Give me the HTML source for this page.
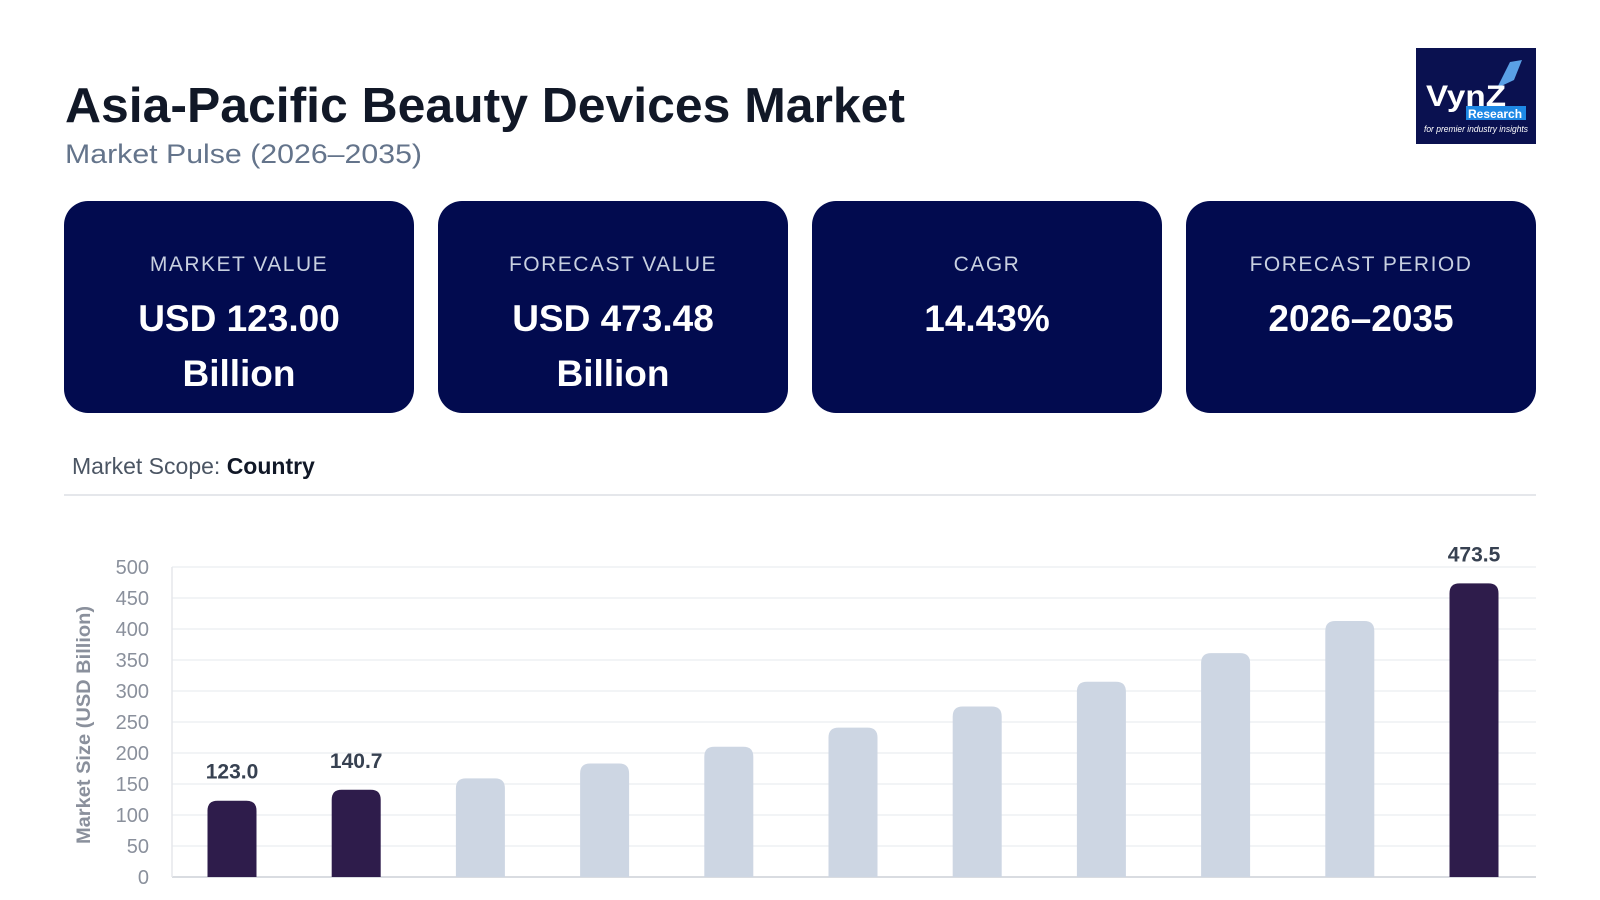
<!DOCTYPE html>
<html><head><meta charset="utf-8"><style>
html,body{margin:0;padding:0;background:#fff;}
svg{display:block;font-family:"Liberation Sans",sans-serif;}
</style></head><body>
<svg width="1600" height="900" viewBox="0 0 1600 900">
<text x="65" y="122" font-size="49" font-weight="bold" fill="#111827" textLength="840" lengthAdjust="spacingAndGlyphs">Asia-Pacific Beauty Devices Market</text>
<text x="65" y="163" font-size="27" fill="#64748b" textLength="357" lengthAdjust="spacingAndGlyphs">Market Pulse (2026–2035)</text>
<g>
<rect x="1416" y="48" width="120" height="96" fill="#0a1150"/>
<polygon points="1497,88 1510,62 1522,60 1514,80" fill="#5aa0e6"/>
<text x="1426" y="106" font-size="30" font-weight="bold" fill="#fff" textLength="80" lengthAdjust="spacingAndGlyphs">VynZ</text>
<rect x="1466" y="106" width="60" height="14" fill="#1e88e5"/>
<text x="1468" y="118" font-size="12" font-weight="bold" fill="#fff">Research</text>
<text x="1424" y="132" font-size="9" font-style="italic" fill="#fff" textLength="104" lengthAdjust="spacingAndGlyphs">for premier industry insights</text>
</g>
<g id="cards"></g>
<text x="72" y="474" font-size="23" fill="#4b5563">Market Scope: <tspan font-weight="bold" fill="#111827">Country</tspan></text>
<line x1="64" y1="495" x2="1536" y2="495" stroke="#e5e7eb" stroke-width="2"/>
<g id="chart"></g>
</svg>
<script>
const cardLabels=["MARKET VALUE","FORECAST VALUE","CAGR","FORECAST PERIOD"];
const cardLine1=["USD 123.00","USD 473.48","14.43%","2026–2035"];
const cardLine2=["Billion","Billion","",""];
const years=["2025","2026","2027","2028","2029","2030","2031","2032","2033","2034","2035"];
const values=[123.0,140.7,159,183,210,241,275,315,361,413,473.5];
const highlight=[true,true,false,false,false,false,false,false,false,false,true];
const valueLabels=["123.0","140.7","","","","","","","","","473.5"];
const yTicks=[0,50,100,150,200,250,300,350,400,450,500];
const NS="http://www.w3.org/2000/svg";
function mk(tag,attrs,parent,txt){const e=document.createElementNS(NS,tag);for(const k in attrs)e.setAttribute(k,attrs[k]);if(txt!==undefined)e.textContent=txt;parent.appendChild(e);return e;}
const cards=document.getElementById('cards');
cardLabels.forEach((l,i)=>{
  const g=mk('g',{},cards);
  
  
  const x=64+i*374,w=350,cx=x+w/2;
  mk('rect',{x:x,y:201,width:w,height:212,rx:24,fill:'#020b4f'},g);
  const t1=mk('text',{x:cx,y:271,'text-anchor':'middle','font-size':21,fill:'#c8d0e0','letter-spacing':'1.5'},g,l);
  
  
  const t2=mk('text',{x:cx,y:331,'text-anchor':'middle','font-size':37,'font-weight':'bold',fill:'#fff'},g,cardLine1[i]);
  
  
  if(cardLine2[i]){const t3=mk('text',{x:cx,y:386,'text-anchor':'middle','font-size':37,'font-weight':'bold',fill:'#fff'},g,cardLine2[i]);
  
  }
});
const chart=document.getElementById('chart');
const y0=877,yTop=567,vMax=500;
const yS=v=>y0-(v/vMax)*(y0-yTop);
const xS=i=>232+i*124.2;
const bw=49;
yTicks.forEach(t=>{
  const ln=mk('line',{x1:172,x2:1536,y1:yS(t),y2:yS(t),stroke:t===0?'#d9dce1':'#eef0f3','stroke-width':t===0?2:1.5},chart);
  
  
  const tx=mk('text',{x:149,y:yS(t)+7,'text-anchor':'end','font-size':20,fill:'#8a909c'},chart,String(t));
  
  
});
const ax=mk('line',{x1:172,x2:172,y1:yTop,y2:y0,stroke:'#e5e7eb','stroke-width':1.5},chart);


const yt=mk('text',{x:0,y:0,transform:'translate(90,725) rotate(-90)','text-anchor':'middle','font-size':19,'font-weight':'bold',fill:'#8a909c',textLength:238,lengthAdjust:'spacingAndGlyphs'},chart,'Market Size (USD Billion)');


values.forEach((v,i)=>{
  const x=xS(i)-bw/2,top=yS(v),h=y0-top,r=10;
  const p=mk('path',{d:`M${x},${y0}V${top+r}Q${x},${top} ${x+r},${top}H${x+bw-r}Q${x+bw},${top} ${x+bw},${top+r}V${y0}Z`,fill:highlight[i]?'#2e1c4b':'#cdd6e3'},chart);
  
  
  if(valueLabels[i]){const t=mk('text',{x:xS(i),y:top-22,'text-anchor':'middle','font-size':21,'font-weight':'bold',fill:'#374151'},chart,valueLabels[i]);
  
  }
});
</script>
</body></html>
